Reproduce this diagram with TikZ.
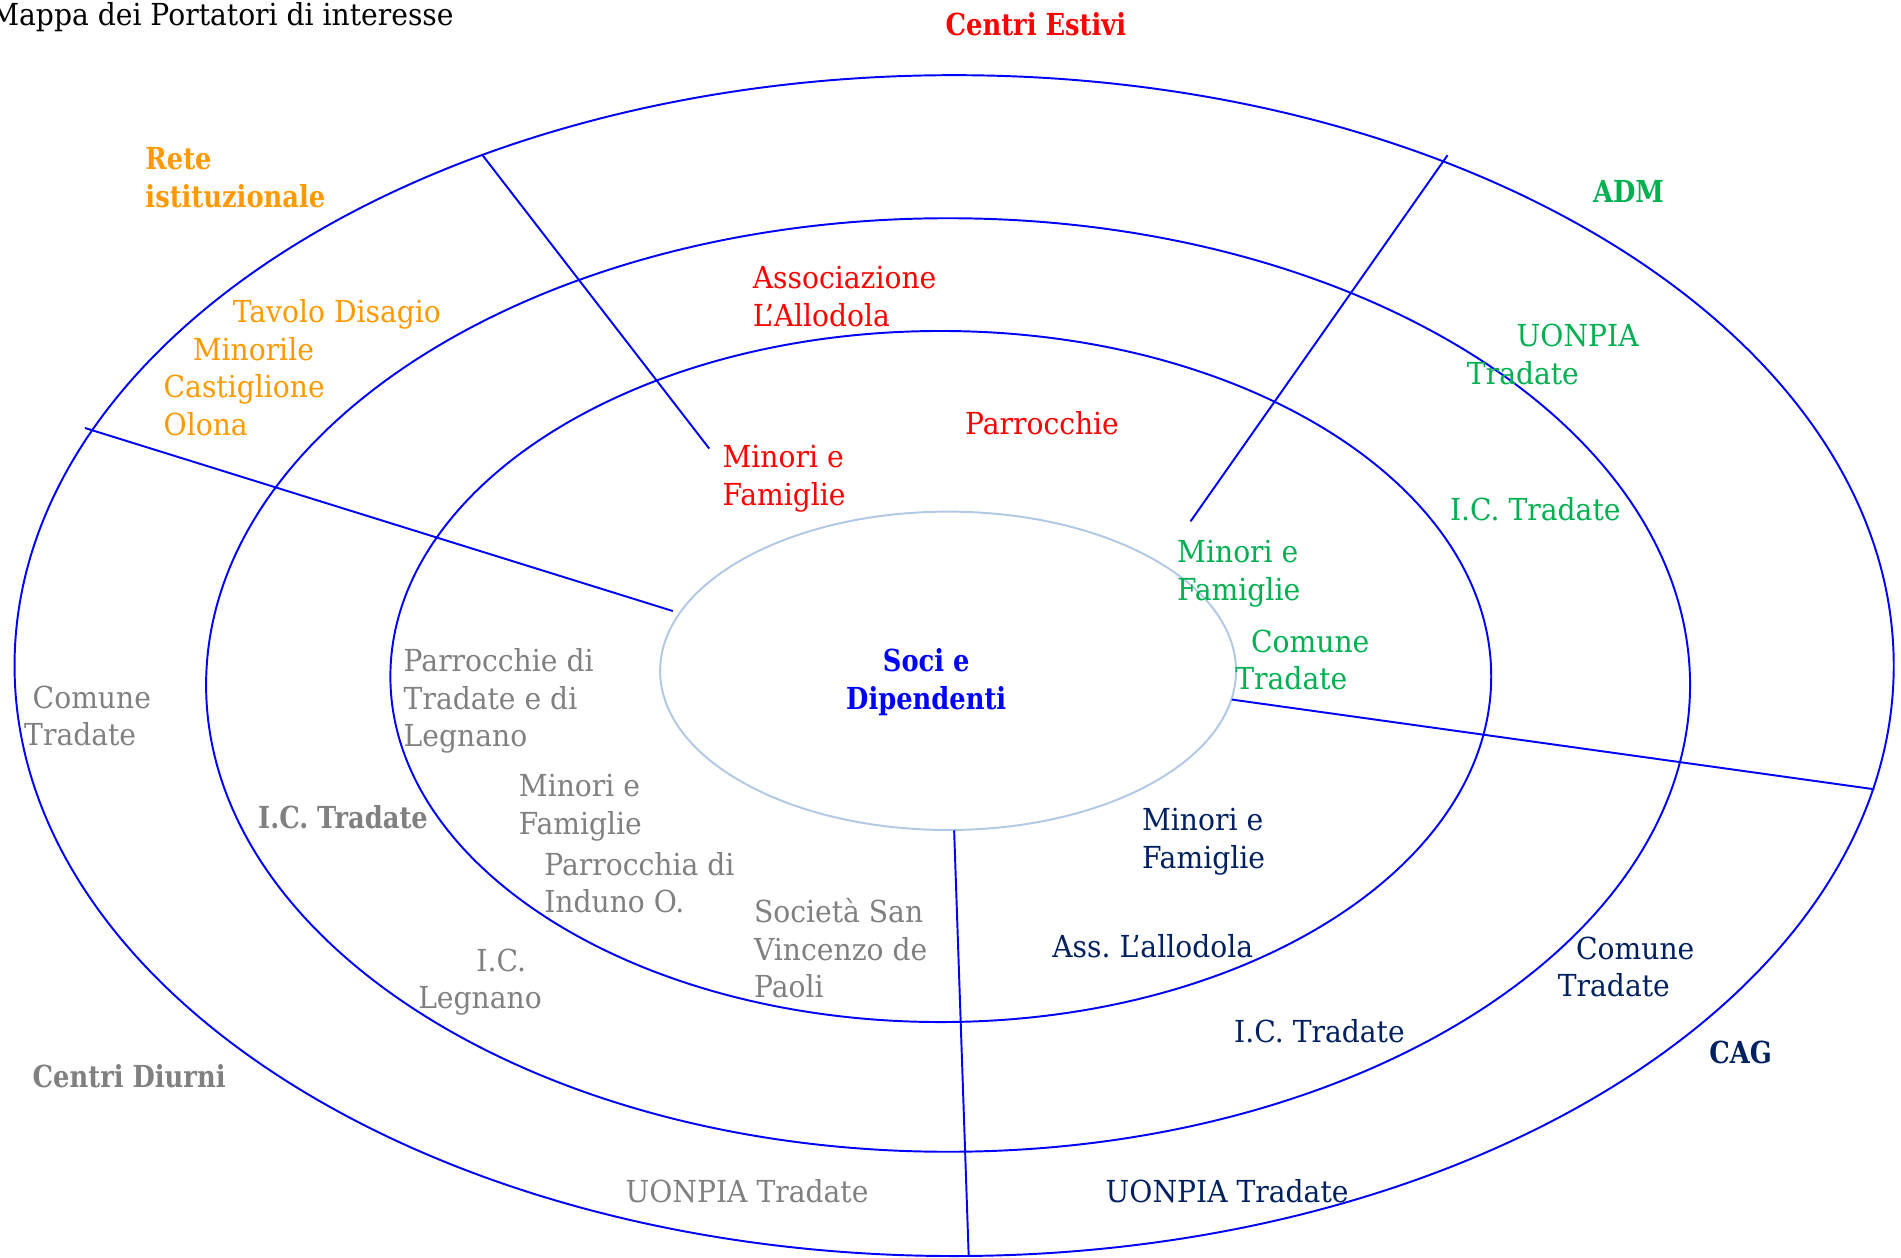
\documentclass[tikz,border=0pt]{standalone}
\usepackage{fontspec}
\setmainfont{DejaVu Serif}[FakeStretch=0.93]
\newfontfamily\lblbf{DejaVu Serif Bold}[FakeStretch=0.85]
\definecolor{ringblue}{RGB}{0,0,255}
\definecolor{coreblue}{RGB}{176,200,228}
\definecolor{cred}{RGB}{255,0,0}
\definecolor{corange}{RGB}{255,153,0}
\definecolor{cgreen}{RGB}{0,176,80}
\definecolor{cnavy}{RGB}{0,32,96}
\definecolor{cgray}{RGB}{128,128,128}
\definecolor{cblue}{RGB}{0,0,255}
\newcommand\lblfont{\fontsize{25}{31}\selectfont}
\begin{document}
\begin{tikzpicture}[x=1pt,y=-1pt,
  ring/.style={draw=ringblue, line width=1.6pt},
  core/.style={draw=coreblue, line width=1.6pt},
  divider/.style={draw=ringblue, line width=1.6pt},
  lbl/.style={anchor=base west, inner sep=0pt, outer sep=0pt, align=left, font=\lblfont},
  bold/.style={font=\lblfont\lblbf}]
\useasboundingbox (0,0) rectangle (1568,1037);

% rings
\draw[ring] (787,549) ellipse [x radius=775, y radius=487];
\draw[ring] (782,565) ellipse [x radius=612, y radius=385];
\draw[ring] (776,558) ellipse [x radius=454, y radius=285];
\draw[core] (782,553.3) ellipse [x radius=237.5, y radius=131.3];

% divider end points
\coordinate (d1a) at (398,128);  \coordinate (d1b) at (585,370);
\coordinate (d2a) at (1194,128); \coordinate (d2b) at (982,430);
\coordinate (d3a) at (70,353);   \coordinate (d3b) at (555,504);
\coordinate (d4a) at (1016,577); \coordinate (d4b) at (1546,651);
\coordinate (d5a) at (787,685);  \coordinate (d5b) at (799,1036);
\draw[divider] (d1a) -- (d1b);
\draw[divider] (d2a) -- (d2b);
\draw[divider] (d3a) -- (d3b);
\draw[divider] (d4a) -- (d4b);
\draw[divider] (d5a) -- (d5b);

% title
\node[lbl, black] (title) at (-8,21) {Mappa dei Portatori di interesse};

% red sector
\node[lbl, bold, cred] (centriestivi) at (780,29) {Centri Estivi};
\node[lbl, cred] (assoc) at (621,269) {Associazione\\L’Allodola};
\node[lbl, cred] (parrocchie) at (796,358) {Parrocchie};
\node[lbl, cred] (minorired) at (596,417) {Minori e\\Famiglie};

% orange sector
\node[lbl, bold, corange] (rete) at (120,171) {Rete\\istituzionale};
\node[lbl, corange] (tavolo) at (135,359) {\hspace*{57pt}Tavolo Disagio\\\hspace*{24pt}Minorile\\Castiglione\\Olona};

% green sector
\node[lbl, bold, cgreen] (adm) at (1314,167) {ADM};
\node[lbl, cgreen] (uonpiagreen) at (1210,317) {\hspace*{41pt}UONPIA\\Tradate};
\node[lbl, cgreen] (icgreen) at (1196,429) {I.C. Tradate};
\node[lbl, cgreen] (minorigreen) at (971,495) {Minori e\\Famiglie};
\node[lbl, cgreen] (comunegreen) at (1019,569) {\hspace*{13pt}Comune\\Tradate};

% centre
\node[anchor=base, inner sep=0pt, align=center, font=\lblfont\lblbf, cblue] (soci) at (764,585) {Soci e\\Dipendenti};

% gray sector
\node[lbl, cgray] (parrocchiedi) at (333,616) {Parrocchie di\\Tradate e di\\Legnano};
\node[lbl, cgray] (comunegray) at (20,615) {\hspace*{7pt}Comune\\Tradate};
\node[lbl, bold, cgray] (icgray) at (213,683) {I.C. Tradate};
\node[lbl, cgray] (minorigray) at (428,688) {Minori e\\Famiglie};
\node[lbl, cgray] (induno) at (449,753) {Parrocchia di\\Induno O.};
\node[lbl, cgray] (societa) at (622,823) {Società San\\Vincenzo de\\Paoli};
\node[lbl, cgray] (iclegnano) at (345,832) {\hspace*{48pt}I.C.\\Legnano};
\node[lbl, bold, cgray] (centridiurni) at (27,897) {Centri Diurni};
\node[lbl, cgray] (uonpiagray) at (516,992) {UONPIA Tradate};

% navy sector
\node[lbl, cnavy] (minorinavy) at (942,716) {Minori e\\Famiglie};
\node[lbl, cnavy] (assnavy) at (868,790) {Ass.\ L’allodola};
\node[lbl, cnavy] (comunenavy) at (1285,822) {\hspace*{15pt}Comune\\Tradate};
\node[lbl, cnavy] (icnavy) at (1018,860) {I.C. Tradate};
\node[lbl, bold, cnavy] (cag) at (1410,877) {CAG};
\node[lbl, cnavy] (uonpianavy) at (912,992) {UONPIA Tradate};
\end{tikzpicture}
\end{document}
